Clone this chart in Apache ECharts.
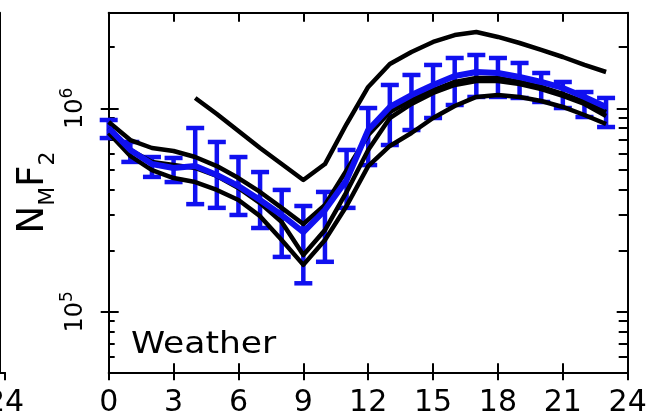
<!DOCTYPE html>
<html>
<head>
<meta charset="utf-8">
<script src="https://cdn.jsdelivr.net/npm/echarts@6/dist/echarts.min.js"></script>
<style>
html,body{margin:0;padding:0;background:#fff;}
#chart{width:647px;height:413px;}
</style>
</head>
<body>
<div id="chart"></div>
<script>
// local time (hours)
var hours = [0,1,2,3,4,5,6,7,8,9,10,11,12,13,14,15,16,17,18,19,20,21,22,23];

// observed NmF2 (blue): mean and error bar ends
var blueMean = [8.00e5,6.24e5,5.32e5,5.09e5,5.20e5,4.70e5,4.15e5,3.54e5,2.99e5,2.46e5,3.16e5,4.44e5,
                7.82e5,1.015e6,1.162e6,1.302e6,1.441e6,1.508e6,1.491e6,1.425e6,1.347e6,1.259e6,1.137e6,1.015e6];
var blueHigh = [8.76e5,6.83e5,5.76e5,5.70e5,8.00e5,6.83e5,5.76e5,4.86e5,3.97e5,3.31e5,3.88e5,6.24e5,
                1.003e6,1.302e6,1.458e6,1.633e6,1.767e6,1.828e6,1.767e6,1.670e6,1.491e6,1.347e6,1.202e6,1.124e6];
var blueLow  = [7.14e5,5.45e5,4.60e5,4.34e5,3.38e5,3.24e5,2.99e5,2.58e5,1.86e5,1.38e5,1.76e5,3.24e5,
                5.26e5,6.60e5,7.82e5,8.96e5,1.038e6,1.137e6,1.137e6,1.124e6,1.074e6,1.003e6,9.06e5,8.09e5];

// model runs (black)
var black1 = [null,null,null,null,1.124e6,9.38e5,7.73e5,6.38e5,5.32e5,4.44e5,5.32e5,8.37e5,
              1.273e6,1.651e6,1.892e6,2.118e6,2.291e6,2.371e6,2.242e6,2.094e6,1.935e6,1.787e6,1.633e6,1.508e6];
var black2 = [8.56e5,6.98e5,6.38e5,6.17e5,5.76e5,5.20e5,4.54e5,3.88e5,3.24e5,2.70e5,3.35e5,4.97e5,
              7.39e5,9.59e5,1.099e6,1.230e6,1.347e6,1.409e6,1.409e6,1.347e6,1.273e6,1.176e6,1.074e6,9.59e5];
var black3 = [8.00e5,6.24e5,5.45e5,5.26e5,5.09e5,4.65e5,4.06e5,3.42e5,2.76e5,1.90e5,2.52e5,3.88e5,
              6.24e5,8.96e5,1.050e6,1.189e6,1.302e6,1.362e6,1.362e6,1.317e6,1.244e6,1.150e6,1.050e6,9.17e5];
var black4 = [7.56e5,5.83e5,4.97e5,4.54e5,4.34e5,3.97e5,3.54e5,2.95e5,2.25e5,1.70e5,2.25e5,3.31e5,
              5.20e5,6.53e5,7.56e5,8.96e5,1.026e6,1.137e6,1.162e6,1.137e6,1.086e6,1.015e6,9.27e5,8.37e5];

// axis ticks
var yMajor = [1e5,1e6];
var yMinor = [6e4,7e4,8e4,9e4,2e5,3e5,4e5,5e5,6e5,7e5,8e5,9e5,2e6];
var yMin = 5.04e4, yMax = 2.95e6;

var BLUE = '#1010f0';
var FONT = 'DejaVu Sans';

function lg(v){ return v == null ? null : Math.log10(v); }
function toXY(arr){
	var out = [];
	for (var i = 0; i < hours.length; i++){
		if (arr[i] != null) out.push([hours[i], lg(arr[i])]);
	}
	return out;
}

var errData = [];
for (var i = 0; i < hours.length; i++){
	errData.push([hours[i], lg(blueLow[i]), lg(blueHigh[i])]);
}

function renderErr(params, api){
	var x = api.value(0);
	var pLo = api.coord([x, api.value(1)]);
	var pHi = api.coord([x, api.value(2)]);
	var w = 9;
	var st = {stroke: BLUE, lineWidth: 4.5};
	return {type:'group', children:[
		{type:'line', shape:{x1:pHi[0], y1:pHi[1], x2:pLo[0], y2:pLo[1]}, style:st},
		{type:'line', shape:{x1:pHi[0]-w, y1:pHi[1], x2:pHi[0]+w, y2:pHi[1]}, style:st},
		{type:'line', shape:{x1:pLo[0]-w, y1:pLo[1], x2:pLo[0]+w, y2:pLo[1]}, style:st}
	]};
}

function blackLine(name, arr){
	return {name:name, type:'line', data:toXY(arr), showSymbol:false, silent:true,
		lineStyle:{color:'#000', width:4.5, join:'round'}, z:3};
}

// one y axis in log10 space; ticks from custom value lists
function yAx(grid, pos, tickVals, len, inside, showLine, labels){
	var ax = {
		type:'value', gridIndex:grid, position:pos, min:lg(yMin), max:lg(yMax),
		splitLine:{show:false},
		axisLine:{show:showLine, lineStyle:{color:'#000', width:2}},
		axisTick:{show:true, inside:inside, length:len, customValues:tickVals.map(lg), lineStyle:{color:'#000', width:2}},
		axisLabel:{show:false}
	};
	if (labels){
		ax.axisLabel = {
			show:true, customValues:yMajor.map(lg), rotate:90, margin:21, color:'#000',
			formatter:function(v){ return '{b|10}{p|' + Math.round(v) + '}'; },
			rich:{
				b:{fontFamily:FONT, fontSize:24, color:'#000', verticalAlign:'bottom'},
				p:{fontFamily:FONT, fontSize:17, color:'#000', verticalAlign:'bottom', padding:[0,0,12,0]}
			}
		};
	}
	return ax;
}

function xAx(grid, pos, len, inside, showLine, labels, only){
	var ax = {
		type:'value', gridIndex:grid, position:pos, min:0, max:24, interval:3,
		splitLine:{show:false},
		axisLine:{show:showLine, lineStyle:{color:'#000', width:2}},
		axisTick:{show:true, inside:inside, length:len, lineStyle:{color:'#000', width:2}},
		axisLabel:{show:labels, margin:16, color:'#000', fontFamily:FONT, fontSize:30}
	};
	if (only){
		ax.axisTick.customValues = only;
		ax.axisLabel.customValues = only;
	}
	return ax;
}

var myChart = echarts.init(document.getElementById('chart'), null, {renderer:'canvas'});

var option = {
	backgroundColor:'#fff',
	animation:false,
	grid:[
		{left:108.7, right:19.3, top:12.7, bottom:40.7, outerBoundsMode:'none'},
		// right edge of the neighbouring panel
		{left:0, right:642, top:12.7, bottom:40.7, outerBoundsMode:'none'}
	],
	xAxis:[
		xAx(0, 'bottom', 8, false, true, true),
		xAx(0, 'bottom', 9, true, false, false),
		xAx(0, 'top', 9, true, true, false),
		xAx(1, 'bottom', 8, false, true, true, [24])
	],
	yAxis:[
		yAx(0, 'left', yMajor, 8, false, true, true),
		yAx(0, 'left', yMajor, 10, true, false, false),
		yAx(0, 'left', yMinor, 6, true, false, false),
		yAx(0, 'right', yMajor, 11, true, true, false),
		yAx(0, 'right', yMinor, 9, true, false, false),
		yAx(1, 'right', yMajor.concat(yMinor), 6, true, true, false)
	],
	graphic:[
		{type:'text', x:131, y:345, scaleX:1.15,
		 style:{text:'Weather', font:'30px "DejaVu Sans"', fill:'#000', verticalAlign:'middle'}}
	],
	series:[
		{name:'obs', type:'custom', renderItem:renderErr, data:errData, silent:true, z:2},
		blackLine('m1', black1),
		blackLine('m2', black2),
		blackLine('m3', black3),
		blackLine('m4', black4),
		{name:'mean', type:'line', data:toXY(blueMean), showSymbol:false, silent:true,
		 lineStyle:{color:BLUE, width:6, join:'round'}, z:4}
	]
};
// y axis title N_M F_2
option.yAxis[0].name = '{n|N}{s|M}{n|F}{s|2}';
option.yAxis[0].nameLocation = 'middle';
option.yAxis[0].nameRotate = 90;
option.yAxis[0].nameGap = 49;
option.yAxis[0].nameMoveOverlap = false;
option.yAxis[0].nameTextStyle = {
	rich:{
		n:{fontFamily:FONT, fontSize:37, color:'#000', verticalAlign:'bottom', padding:[0,0,8,0]},
		s:{fontFamily:FONT, fontSize:22, color:'#000', verticalAlign:'bottom'}
	}
};
myChart.setOption(option);
</script>
</body>
</html>
